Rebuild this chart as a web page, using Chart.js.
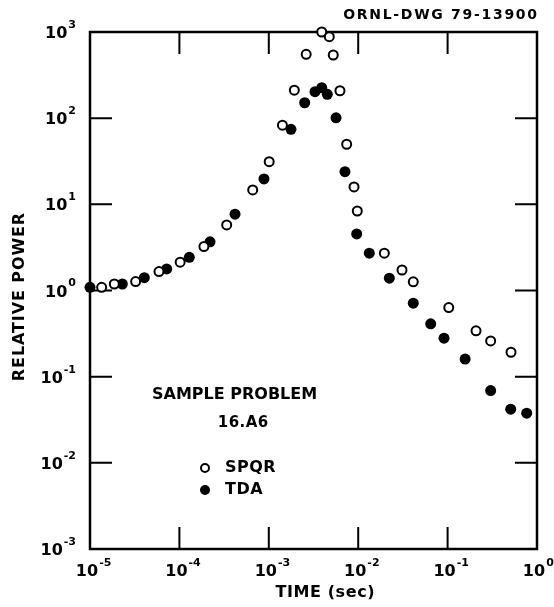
<!DOCTYPE html>
<html>
<head>
<meta charset="utf-8">
<script src="https://cdn.jsdelivr.net/npm/chart.js@4.4.1/dist/chart.umd.min.js"></script>
<style>
  body { margin: 0; background: #fff; }
  canvas { display: block; }
</style>
</head>
<body>
<canvas id="chart" width="554" height="607"></canvas>
<script>
// SPQR (open circles)
const spqrTime = [1.35e-5, 1.87e-5, 3.24e-5, 5.91e-5, 1.02e-4, 1.88e-4, 3.38e-4, 6.61e-4, 1.01e-3,
    1.42e-3, 1.93e-3, 2.62e-3, 3.91e-3, 4.75e-3, 5.26e-3, 6.25e-3, 7.43e-3, 8.98e-3, 9.77e-3,
    1.96e-2, 3.09e-2, 4.13e-2, 0.103, 0.208, 0.303, 0.512];
const spqrPower = [1.09, 1.19, 1.27, 1.66, 2.13, 3.23, 5.77, 14.7, 31.3,
    83, 211, 551, 1000, 882, 541, 208, 49.8, 15.9, 8.37,
    2.71, 1.73, 1.26, 0.634, 0.340, 0.260, 0.192];

// TDA (filled circles)
const tdaTime = [1.0e-5, 2.30e-5, 4.05e-5, 7.21e-5, 1.29e-4, 2.20e-4, 4.19e-4, 8.83e-4, 1.77e-3,
    2.52e-3, 3.29e-3, 3.91e-3, 4.51e-3, 5.65e-3, 7.11e-3, 9.62e-3, 1.33e-2, 2.23e-2, 4.13e-2,
    6.47e-2, 9.12e-2, 0.157, 0.303, 0.508, 0.767];
const tdaPower = [1.09, 1.19, 1.41, 1.78, 2.43, 3.67, 7.68, 19.7, 74.3,
    151, 203, 226, 189, 101, 23.9, 4.54, 2.71, 1.39, 0.713,
    0.410, 0.280, 0.160, 0.069, 0.042, 0.0377];

// decade exponents used for ticks and tick labels
const xDecades = [-5, -4, -3, -2, -1, 0];
const yDecades = [-3, -2, -1, 0, 1, 2, 3];

const FONT = '"DejaVu Sans", sans-serif';

function pairs(xs, ys) {
    return xs.map((x, i) => ({ x: x, y: ys[i] }));
}

function drawPow(ctx, exp, x, y, align) {
    // draws 10^exp; (x, y) = anchor of the "10" part
    ctx.font = 'bold 16px ' + FONT;
    const base = '10';
    const bw = ctx.measureText(base).width;
    ctx.font = 'bold 11px ' + FONT;
    const e = String(exp);
    const ew = ctx.measureText(e).width;
    let left = x;
    if (align === 'right') left = x - bw - ew - 1;
    if (align === 'center') left = x - bw / 2;
    ctx.textAlign = 'left';
    ctx.textBaseline = 'middle';
    ctx.font = 'bold 16px ' + FONT;
    ctx.fillText(base, left, y);
    ctx.font = 'bold 11px ' + FONT;
    ctx.fillText(e, left + bw + 1, y - 9);
}

function spacedText(ctx, text, x, y, font, spacing, align) {
    ctx.font = font;
    ctx.letterSpacing = spacing + 'px';
    const w = ctx.measureText(text).width - spacing;
    let left = x;
    if (align === 'center') left = x - w / 2;
    if (align === 'right') left = x - w;
    ctx.textAlign = 'left';
    ctx.textBaseline = 'middle';
    ctx.fillText(text, left, y);
    ctx.letterSpacing = '0px';
}

const framePlugin = {
    id: 'frame',
    beforeDatasetsDraw(chart) {
        const ctx = chart.ctx;
        const a = chart.chartArea;
        const xs = chart.scales.x;
        const ys = chart.scales.y;
        const tick = 22;
        ctx.save();
        ctx.strokeStyle = '#000';
        ctx.fillStyle = '#000';
        ctx.lineWidth = 2.5;
        ctx.strokeRect(a.left, a.top, a.right - a.left, a.bottom - a.top);

        ctx.lineWidth = 2;
        ctx.beginPath();
        xDecades.slice(1, -1).forEach(d => {
            const px = xs.getPixelForValue(Math.pow(10, d));
            ctx.moveTo(px, a.bottom); ctx.lineTo(px, a.bottom - tick);
            ctx.moveTo(px, a.top); ctx.lineTo(px, a.top + tick);
        });
        yDecades.slice(1, -1).forEach(d => {
            const py = ys.getPixelForValue(Math.pow(10, d));
            ctx.moveTo(a.left, py); ctx.lineTo(a.left + tick, py);
            ctx.moveTo(a.right, py); ctx.lineTo(a.right - tick, py);
        });
        ctx.stroke();

        // tick labels
        xDecades.forEach(d => {
            const px = xs.getPixelForValue(Math.pow(10, d));
            drawPow(ctx, d, px - 3, a.bottom + 23, 'center');
        });
        yDecades.forEach(d => {
            const py = ys.getPixelForValue(Math.pow(10, d));
            drawPow(ctx, d, a.left - 14, py + 2, 'right');
        });

        // axis titles
        spacedText(ctx, 'TIME (sec)', 325, 593, 'bold 16px ' + FONT, 0.6, 'center');
        ctx.save();
        ctx.translate(20, 297);
        ctx.rotate(-Math.PI / 2);
        spacedText(ctx, 'RELATIVE POWER', 0, 0, 'bold 16px ' + FONT, 0.9, 'center');
        ctx.restore();

        // drawing number and annotations
        spacedText(ctx, 'ORNL-DWG 79-13900', 537, 15, 'bold 14px ' + FONT, 1.7, 'right');
        spacedText(ctx, 'SAMPLE PROBLEM', 152, 395, 'bold 16px ' + FONT, 0, 'left');
        spacedText(ctx, '16.A6', 243, 423, 'bold 15px ' + FONT, 0.5, 'center');

        // legend
        ctx.lineWidth = 2;
        ctx.beginPath();
        ctx.arc(205, 468, 4, 0, Math.PI * 2);
        ctx.stroke();
        ctx.beginPath();
        ctx.arc(205, 490, 5, 0, Math.PI * 2);
        ctx.fill();
        spacedText(ctx, 'SPQR', 225, 468, 'bold 16px ' + FONT, 0.5, 'left');
        spacedText(ctx, 'TDA', 225, 490, 'bold 16px ' + FONT, 0.5, 'left');
        ctx.restore();
    }
};

new Chart(document.getElementById('chart'), {
    type: 'scatter',
    data: {
        datasets: [
            {
                label: 'SPQR',
                data: pairs(spqrTime, spqrPower),
                pointStyle: 'circle',
                pointRadius: 4.5,
                pointBorderWidth: 2,
                borderColor: '#000',
                backgroundColor: '#fff',
                clip: false
            },
            {
                label: 'TDA',
                data: pairs(tdaTime, tdaPower),
                pointStyle: 'circle',
                pointRadius: 5.5,
                pointBorderWidth: 0,
                borderColor: '#000',
                backgroundColor: '#000',
                clip: false
            }
        ]
    },
    options: {
        responsive: false,
        animation: false,
        devicePixelRatio: 1,
        layout: {
            padding: { left: 90, top: 32, right: 17, bottom: 58 }
        },
        scales: {
            x: { type: 'logarithmic', min: 1e-5, max: 1, display: false },
            y: { type: 'logarithmic', min: 1e-3, max: 1e3, display: false }
        },
        plugins: {
            legend: { display: false },
            tooltip: { enabled: false }
        }
    },
    plugins: [framePlugin]
});
</script>
</body>
</html>
